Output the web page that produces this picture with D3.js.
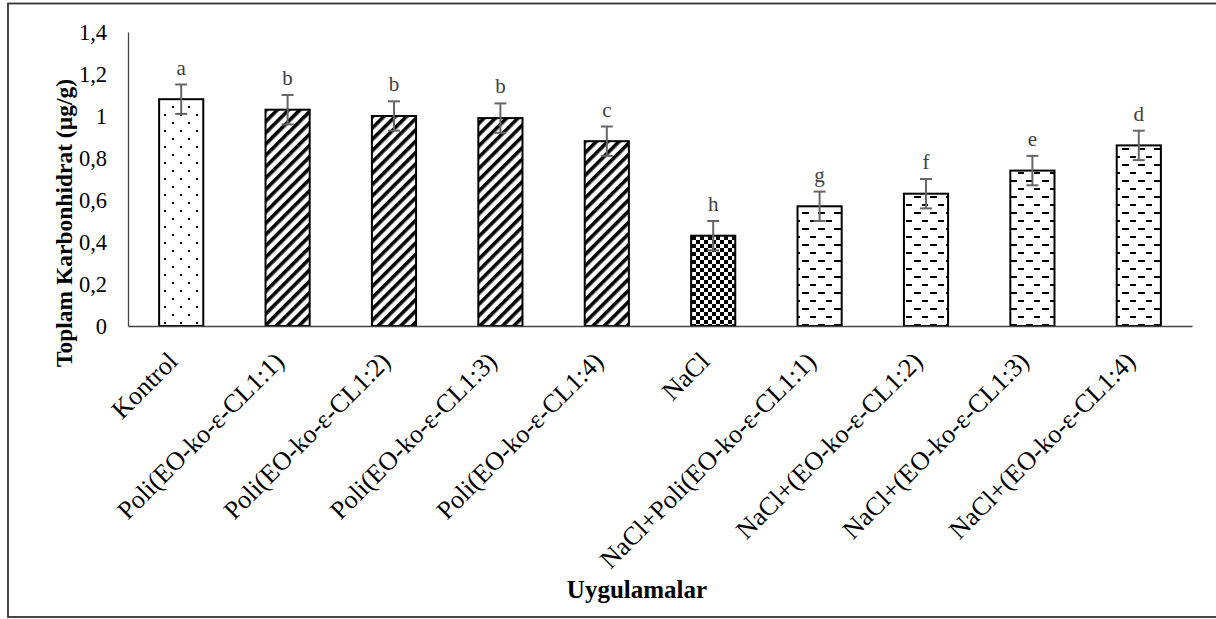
<!DOCTYPE html>
<html><head><meta charset="utf-8">
<script src="https://cdn.jsdelivr.net/npm/d3@7"></script>
<style>body{margin:0;background:#fff}svg{display:block}</style>
</head><body>
<svg id="c" width="1216" height="619"></svg>
<script>
const categories = ["Kontrol","Poli(EO-ko-ε-CL1:1)","Poli(EO-ko-ε-CL1:2)","Poli(EO-ko-ε-CL1:3)","Poli(EO-ko-ε-CL1:4)","NaCl","NaCl+Poli(EO-ko-ε-CL1:1)","NaCl+(EO-ko-ε-CL1:2)","NaCl+(EO-ko-ε-CL1:3)","NaCl+(EO-ko-ε-CL1:4)"];
const values = [1.08,1.03,1.00,0.99,0.88,0.43,0.57,0.63,0.74,0.86];
const errors = [0.07,0.07,0.07,0.07,0.07,0.07,0.07,0.07,0.07,0.07];
const letters = ["a","b","b","b","c","h","g","f","e","d"];
const patterns = ["dots","diag","diag","diag","diag","check","dash","dash","dash","dash"];
const yTicks = [0,0.2,0.4,0.6,0.8,1,1.2,1.4];

const svg = d3.select("#c");
const font = "'Liberation Serif','Times New Roman',serif";
// frame
svg.append("rect").attr("x",8).attr("y",3.5).attr("width",1220).attr("height",613.5)
  .attr("fill","none").attr("stroke","#333").attr("stroke-width",1.8);

const defs = svg.append("defs");
let p = defs.append("pattern").attr("id","dots").attr("patternUnits","userSpaceOnUse").attr("width",16).attr("height",16);
p.append("rect").attr("x",4).attr("y",2).attr("width",2).attr("height",2).attr("fill","#000");
p.append("rect").attr("x",12).attr("y",10).attr("width",2).attr("height",2).attr("fill","#000");
p = defs.append("pattern").attr("id","diag").attr("patternUnits","userSpaceOnUse").attr("width",8).attr("height",8).attr("patternTransform","rotate(45)");
p.append("rect").attr("x",0).attr("y",0).attr("width",3.6).attr("height",8).attr("fill","#000");
p = defs.append("pattern").attr("id","check").attr("patternUnits","userSpaceOnUse").attr("width",8).attr("height",8);
p.append("rect").attr("x",0).attr("y",0).attr("width",4).attr("height",4).attr("fill","#000");
p.append("rect").attr("x",4).attr("y",4).attr("width",4).attr("height",4).attr("fill","#000");
p = defs.append("pattern").attr("id","dash").attr("patternUnits","userSpaceOnUse").attr("width",16).attr("height",16);
p.append("rect").attr("x",2).attr("y",4).attr("width",7).attr("height",2).attr("fill","#000");
p.append("rect").attr("x",10).attr("y",12).attr("width",7).attr("height",2).attr("fill","#000");

const x = d3.scaleBand().domain(categories).range([128,1192]).paddingInner(0.585).paddingOuter(0.2925);
const y = d3.scaleLinear().domain([0,1.4]).range([326,32]);

// y axis
const ya = svg.append("g").attr("transform","translate(128,0)")
  .call(d3.axisLeft(y).tickValues(yTicks).tickSize(0).tickPadding(21).tickFormat(d=>String(d).replace(".",",")));
ya.select(".domain").attr("stroke","#444").attr("stroke-width",1.3);
ya.selectAll("text").attr("font-family",font).attr("font-size",22.5).attr("fill","#000");

const bars = svg.append("g");
bars.selectAll("rect").data(categories).join("rect")
  .attr("x",d=>x(d)).attr("width",x.bandwidth())
  .attr("y",(d,i)=>y(values[i])).attr("height",(d,i)=>y(0)-y(values[i]))
  .attr("fill",(d,i)=>"url(#"+patterns[i]+")").attr("stroke","#000").attr("stroke-width",2);

// x axis
const xa = svg.append("g").attr("transform","translate(0,326)")
  .call(d3.axisBottom(x).tickSize(0).tickFormat(""));
xa.select(".domain").attr("stroke","#444").attr("stroke-width",1.6);

// error bars
const eb = svg.append("g").attr("stroke","#666").attr("stroke-width",2);
categories.forEach((c,i)=>{
  const cx = x(c)+x.bandwidth()/2;
  eb.append("line").attr("x1",cx).attr("x2",cx).attr("y1",y(values[i]+errors[i])).attr("y2",y(values[i]-errors[i]));
  eb.append("line").attr("x1",cx-6).attr("x2",cx+6).attr("y1",y(values[i]+errors[i])).attr("y2",y(values[i]+errors[i]));
  eb.append("line").attr("x1",cx-6).attr("x2",cx+6).attr("y1",y(values[i]-errors[i])).attr("y2",y(values[i]-errors[i]));
});

// letters
svg.append("g").selectAll("text").data(categories).join("text")
  .attr("x",d=>x(d)+x.bandwidth()/2).attr("y",(d,i)=>y(values[i]+errors[i])-10)
  .attr("text-anchor","middle").attr("font-family",font).attr("font-size",21).attr("fill","#404040")
  .text((d,i)=>letters[i]);

// category labels
svg.append("g").selectAll("text").data(categories).join("text")
  .attr("transform",d=>`translate(${x(d)+x.bandwidth()/2-2},${363}) rotate(-45)`)
  .attr("text-anchor","end").attr("font-family",font).attr("font-size",26).attr("fill","#000")
  .text(d=>d);

// axis titles
svg.append("text").attr("transform","translate(72,223) rotate(-90)").attr("text-anchor","middle")
  .attr("font-family",font).attr("font-weight","bold").attr("font-size",23.5).text("Toplam Karbonhidrat (µg/g)");
svg.append("text").attr("x",637).attr("y",598).attr("text-anchor","middle")
  .attr("font-family",font).attr("font-weight","bold").attr("font-size",25).text("Uygulamalar");
</script>
</body></html>
